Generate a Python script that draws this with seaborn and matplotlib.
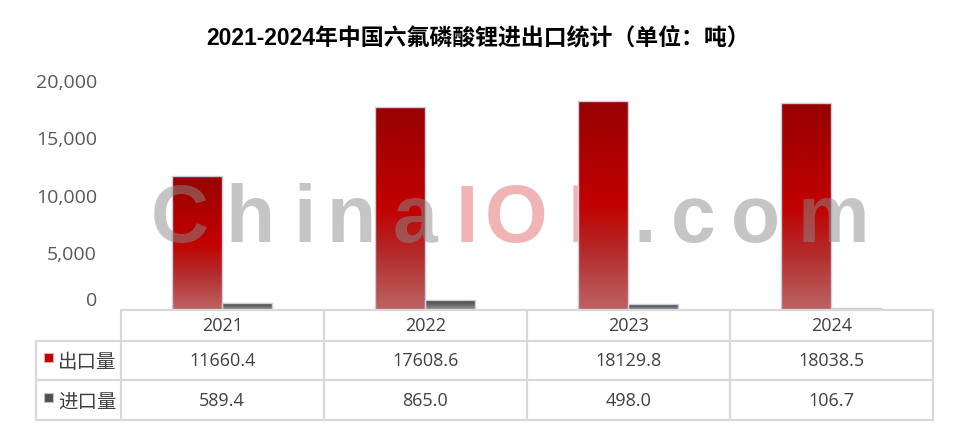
import numpy as np
import pandas as pd
import matplotlib
matplotlib.use("Agg")
import matplotlib.pyplot as plt
import seaborn as sns
from matplotlib.colors import LinearSegmentedColormap
from matplotlib.patches import Rectangle
from matplotlib.lines import Line2D
from matplotlib.transforms import blended_transform_factory, ScaledTranslation

years = ["2021", "2022", "2023", "2024"]
export_vals = [11660.4, 17608.6, 18129.8, 18038.5]
import_vals = [589.4, 865.0, 498.0, 106.7]
series_names = ["出口量", "进口量"]
title = "2021-2024年中国六氟磷酸锂进出口统计（单位：吨）"
yticks = [0, 5000, 10000, 15000, 20000]

sns.set_style("white")
plt.rcParams["font.family"] = ["Open Sans", "Noto Sans CJK SC", "DejaVu Sans"]

df = pd.DataFrame({
    "year": years * 2,
    "type": [series_names[0]] * 4 + [series_names[1]] * 4,
    "value": export_vals + import_vals,
})

W, H = 956, 431
fig = plt.figure(figsize=(W / 100, H / 100), dpi=100)
ax = fig.add_axes([120.7 / W, 1 - 310.5 / H, (932.7 - 120.7) / W, (310.5 - 81) / H])
ax.patch.set_alpha(0)

sns.barplot(data=df, x="year", y="value", hue="type", hue_order=series_names,
            palette=["#c00000", "#555555"], width=0.49, ax=ax, legend=False,
            edgecolor="#c9cde0", linewidth=1.0)

# gradient fill for each bar
red_cmap = LinearSegmentedColormap.from_list(
    "red", [(0, "#bd6464"), (0.28, "#b42a2a"), (0.5, "#c20000"), (1, "#980000")])
gray_cmap = LinearSegmentedColormap.from_list(
    "gray", [(0, "#9a9a9a"), (1, "#3e3e3e")])
grad = np.linspace(0, 1, 256).reshape(-1, 1)
for cont, cmap in zip(ax.containers, [red_cmap, gray_cmap]):
    for bar in cont:
        x, w, h = bar.get_x(), bar.get_width(), bar.get_height()
        bar.set_facecolor("none")
        bar.set_zorder(3)
        ax.imshow(grad, cmap=cmap, extent=[x, x + w, 0, h], origin="lower",
                  aspect="auto", zorder=2, interpolation="bilinear")

ax.set_xlim(-0.5, 3.5)
ax.set_ylim(0, 20000)
ax.set_yticks(yticks)
ax.set_yticklabels([f"{v:,}" for v in yticks], color="#595959", fontsize=14)
ax.set_xticks([])
ax.set_xlabel("")
ax.set_ylabel("")
ax.tick_params(axis="y", length=0, pad=17)
for s in ax.spines.values():
    s.set_visible(False)
zero_lbl = ax.get_yticklabels()[0]
zero_lbl.set_transform(zero_lbl.get_transform() + ScaledTranslation(0, 8 / 72, fig.dpi_scale_trans))

# watermark: pink part sits behind the bars, gray part over them
wm_letters = list("ChinaIOL.com")
wm_x = [180, 250, 305, 351, 415, 467, 516, 592, 645, 693, 755, 833]
for ch, px in zip(wm_letters, wm_x):
    pink = ch in "IOL"
    fig.text(px / W, 1 - 242 / H, ch, ha="center", va="baseline",
             fontsize=58, fontweight="bold", family="Liberation Sans",
             color="#e36a6a" if pink else "#8c8c8c", alpha=0.5,
             zorder=-1 if pink else 10)

# title
fig.text(0.5, 1 - 38 / H, title, ha="center", va="center", fontsize=16.5,
         fontweight="bold", family=["Liberation Sans", "Noto Sans CJK SC"],
         color="#000000")

# data table below the axis
tr = blended_transform_factory(ax.transData, fig.transFigure)
def fy(py):
    return 1 - py / H

row_y = [311, 341.7, 380.7, 420.7]
left_x = -0.5 - (120.7 - 36) / 203
lc = "#d9d9d9"
for i in range(len(years) + 1):
    fig.add_artist(Line2D([i - 0.5, i - 0.5], [fy(row_y[0]), fy(row_y[-1])],
                          transform=tr, color=lc, lw=1.6))
fig.add_artist(Line2D([left_x, left_x], [fy(row_y[1]), fy(row_y[-1])],
                      transform=tr, color=lc, lw=1.6))
fig.add_artist(Line2D([-0.5, 3.5], [fy(row_y[0]), fy(row_y[0])],
                      transform=tr, color=lc, lw=1.6))
for ry in row_y[1:]:
    fig.add_artist(Line2D([left_x, 3.5], [fy(ry), fy(ry)],
                          transform=tr, color=lc, lw=1.6))

txt_col = "#404040"
for i, yr in enumerate(years):
    fig.text(i, fy((row_y[0] + row_y[1]) / 2), yr, transform=tr, ha="center",
             va="center", fontsize=13, color=txt_col)
    fig.text(i, fy((row_y[1] + row_y[2]) / 2), f"{export_vals[i]:.1f}", transform=tr,
             ha="center", va="center", fontsize=13, color=txt_col)
    fig.text(i, fy((row_y[2] + row_y[3]) / 2), f"{import_vals[i]:.1f}", transform=tr,
             ha="center", va="center", fontsize=13, color=txt_col)

for k, (name, fc, ec) in enumerate(zip(series_names, ["#c00000", "#505050"],
                                       ["#e0a8b0", "#c0c0c0"])):
    cy = (row_y[k + 1] + row_y[k + 2]) / 2
    fig.add_artist(Rectangle((44 / W, fy(cy + 2)), 9 / W, 9 / H, transform=fig.transFigure,
                             facecolor=fc, edgecolor=ec, lw=0.8))
    fig.text(58 / W, fy(cy + 1), name, ha="left", va="center", fontsize=14,
             color=txt_col, family=["Noto Sans CJK SC"])

fig.savefig("out.png", dpi=100, facecolor="white")
